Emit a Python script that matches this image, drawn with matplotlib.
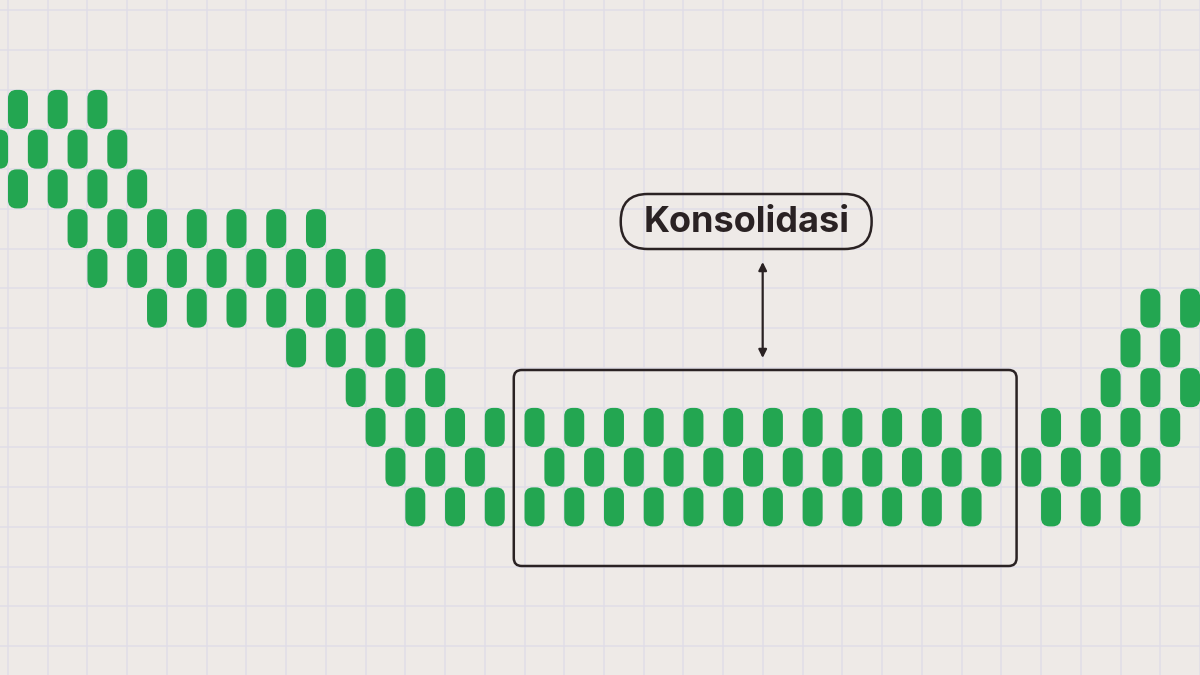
import matplotlib
matplotlib.use("Agg")
import matplotlib.pyplot as plt
from matplotlib.patches import FancyBboxPatch

# kolom (indeks setengah-grid) tiap baris pil, baris 0 = paling atas
row_0 = [1, 3, 5]
row_1 = [0, 2, 4, 6]
row_2 = [1, 3, 5, 7]
row_3 = [4, 6, 8, 10, 12, 14, 16]
row_4 = [5, 7, 9, 11, 13, 15, 17, 19]
row_5 = [8, 10, 12, 14, 16, 18, 20, 58, 60]
row_6 = [15, 17, 19, 21, 57, 59]
row_7 = [18, 20, 22, 56, 58, 60]
row_8 = [19, 21, 23, 25, 27, 29, 31, 33, 35, 37, 39, 41, 43, 45, 47, 49,
         53, 55, 57, 59]
row_9 = [20, 22, 24, 28, 30, 32, 34, 36, 38, 40, 42, 44, 46, 48, 50,
         52, 54, 56, 58]
row_10 = [21, 23, 25, 27, 29, 31, 33, 35, 37, 39, 41, 43, 45, 47, 49,
          53, 55, 57]
pill_rows = [row_0, row_1, row_2, row_3, row_4, row_5, row_6, row_7,
             row_8, row_9, row_10]

label = "Konsolidasi"

# tata letak (piksel)
W, H = 1200, 675
CELL = 39.75
X0, Y0 = -1.9, 109.4          # pusat pil kolom 0 / baris 0
PILL_W, PILL_H = 20, 39
R = 8.5                        # radius sudut pil
GREEN = "#23a651"
BG = "#eeeae7"
GRID = "#e0dde7"
DARK = "#2a2223"

fig = plt.figure(figsize=(12, 6.75), dpi=100)
fig.patch.set_facecolor(BG)
ax = fig.add_axes([0, 0, 1, 1])
ax.set_facecolor(BG)
ax.set_xlim(0, W)
ax.set_ylim(H, 0)

# grid latar
gx = [8 + CELL * k for k in range(31)]
gy = [10 + CELL * k for k in range(17)]
ax.set_xticks(gx)
ax.set_yticks(gy)
ax.tick_params(length=0, labelbottom=False, labelleft=False)
ax.grid(True, color=GRID, linewidth=1.1)
ax.set_axisbelow(True)
for s in ax.spines.values():
    s.set_visible(False)

# pil hijau
for r, cols in enumerate(pill_rows):
    cy = Y0 + r * CELL
    for c in cols:
        cx = X0 + c * CELL / 2
        ax.add_patch(FancyBboxPatch(
            (cx - PILL_W / 2 + R, cy - PILL_H / 2 + R), PILL_W - 2 * R, PILL_H - 2 * R,
            boxstyle=f"round,pad={R}", facecolor=GREEN, edgecolor="none", zorder=3))

# kotak konsolidasi
ax.add_patch(FancyBboxPatch(
    (514 + 8, 370 + 8), 503 - 16, 196 - 16,
    boxstyle="round,pad=8", facecolor="none", edgecolor=DARK,
    linewidth=1.8, zorder=4))

# label
ax.add_patch(FancyBboxPatch(
    (621 + 27, 194 + 27), 251 - 54, 55 - 54,
    boxstyle="round,pad=27", facecolor="none", edgecolor=DARK,
    linewidth=1.8, zorder=4))
ax.text(747, 222, label, ha="center", va="center", fontsize=26,
        fontweight="bold", family="Inter", color=DARK, zorder=5)

# panah dua arah
ax.annotate("", xy=(763, 262), xytext=(763, 358),
            arrowprops=dict(arrowstyle="<|-|>", color=DARK, lw=1.6,
                            mutation_scale=12, shrinkA=0, shrinkB=0))

fig.savefig("out.png", dpi=100, facecolor=BG)
